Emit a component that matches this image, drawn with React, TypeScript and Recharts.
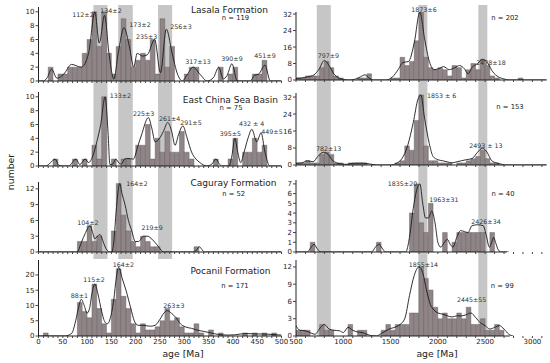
import React from "react";
import { ComposedChart, LineChart, Bar, Line, XAxis, YAxis, ReferenceArea, ReferenceLine } from "recharts";

const FONT = "DejaVu Sans, Verdana, sans-serif";

// histogram counts: left column 10 Ma bins from 0 Ma, right column 50 Ma bins from 500 Ma
const lasalaYoung = [0, 0, 2, 0, 1, 1, 2, 2, 2, 4, 6, 10, 5, 10, 4, 1, 5, 9, 6, 2, 3, 4, 3, 6, 1, 9, 2, 5, 0, 0, 1, 2, 2, 0, 0, 0, 0, 2, 0, 1, 2, 0, 0, 0, 1, 1, 3, 0, 0, 0];
const ecsbYoung = [0, 0, 0, 1, 0, 0, 0, 1, 0, 1, 0, 3, 1, 10, 0, 1, 0, 1, 1, 0, 3, 3, 6, 1, 4, 2, 5, 2, 2, 5, 2, 1, 0, 0, 0, 0, 1, 0, 0, 1, 4, 0, 2, 2, 4, 2, 3, 0, 0, 0];
const cagurayYoung = [0, 0, 0, 0, 0, 0, 0, 0, 2, 2, 5, 2, 3, 0, 0, 4, 13, 7, 4, 2, 1, 3, 2, 1, 1, 0, 0, 0, 0, 0, 0, 0, 1, 0, 0, 0, 0, 0, 0, 0, 0, 0, 0, 0, 0, 0, 0, 0, 0, 0];
const pocanilYoung = [0, 1, 0, 0, 0, 0, 0, 0, 11, 8, 6, 17, 9, 4, 1, 12, 22, 13, 9, 4, 1, 4, 2, 2, 3, 5, 9, 5, 6, 3, 1, 1, 4, 1, 0, 2, 0, 1, 0, 0, 0, 0, 1, 0, 1, 0, 1, 0, 1, 0];

const lasalaOld = [1, 1, 2, 2, 2, 6, 9, 6, 2, 1, 0, 0, 0, 1, 1, 3, 0, 0, 0, 0, 1, 1, 11, 7, 9, 19, 33, 11, 6, 5, 6, 5, 2, 7, 6, 1, 5, 8, 5, 10, 7, 2, 1, 0, 0, 0, 0, 1];
const ecsbOld = [1, 1, 2, 1, 1, 5, 6, 5, 1, 1, 0, 1, 1, 1, 1, 0, 0, 0, 0, 0, 0, 1, 2, 9, 7, 21, 33, 9, 2, 2, 1, 1, 1, 0, 1, 1, 2, 3, 4, 7, 3, 1, 1, 0, 0, 0, 0, 0];
const cagurayOld = [0, 0, 0, 1, 0, 0, 0, 0, 0, 0, 0, 0, 0, 0, 0, 0, 0, 1, 0, 0, 0, 0, 0, 0, 4, 7, 3, 2, 5, 0, 0, 2, 0, 1, 2, 2, 2, 2, 2, 2, 0, 2, 0, 0, 0, 0, 0, 0];
const pocanilOld = [1, 1, 1, 0, 0, 2, 1, 1, 0, 0, 0, 2, 0, 1, 1, 0, 0, 0, 1, 2, 1, 2, 2, 2, 4, 4, 12, 10, 8, 5, 3, 4, 3, 3, 4, 3, 5, 2, 2, 3, 1, 1, 2, 1, 0, 0, 0, 0];

// density curves [age Ma, value]
const lasalaYoungKde = [[0, 0], [10, 0], [18, 0.5], [27, 1.7], [38, 0.4], [52, 1], [68, 2.4], [88, 2], [103, 4], [116, 10], [125, 5.5], [136, 9.5], [145, 4], [155, 0.3], [164, 4], [176, 7.7], [187, 5], [196, 2], [203, 4], [214, 3.6], [224, 3.8], [239, 6], [251, 1.2], [263, 7.5], [275, 4], [286, 1], [296, 0], [305, 0.8], [318, 2], [332, 1], [347, 0], [360, 0.5], [371, 2], [380, 0.3], [388, 0.8], [398, 2.5], [409, 0], [436, 0], [444, 0.8], [453, 1], [466, 2.3], [477, 0], [500, 0]];
const ecsbYoungKde = [[0, 0], [15, 0], [25, 0.5], [34, 1], [42, 0.1], [50, 0], [62, 0], [77, 1], [85, 0.2], [96, 1], [103, 0.5], [112, 1.5], [120, 3.5], [128, 6], [137, 10], [143, 5], [147, 0.2], [153, 0.3], [159, 1], [166, 0.4], [171, 0.3], [177, 1], [184, 1.1], [195, 1], [205, 3], [212, 4.5], [226, 7], [233, 5.5], [240, 3.5], [249, 4], [257, 5], [266, 6.3], [274, 5], [281, 3], [288, 4.5], [297, 5.8], [306, 4], [315, 2], [324, 1], [332, 0.5], [346, 0], [357, 0.3], [365, 1], [372, 0.3], [377, 0], [392, 0], [398, 1.5], [404, 4], [410, 2], [416, 0.5], [423, 2], [431, 4], [439, 5.3], [449, 3.5], [458, 4.8], [466, 2], [476, 0], [500, 0]];
const cagurayYoungKde = [[0, 0], [79, 0], [89, 2], [96, 3.5], [106, 5], [112, 3.5], [116, 2.5], [121, 3], [127, 3.3], [132, 2.2], [137, 1], [146, 0], [151, 0], [155, 2], [160, 8], [167, 13], [172, 11], [178, 9], [185, 6], [192, 4], [199, 2], [206, 2], [211, 2.5], [216, 3], [225, 3], [229, 2.8], [238, 2], [247, 1], [257, 0], [320, 0], [326, 0.5], [331, 1], [336, 0.5], [341, 0], [500, 0]];
const pocanilYoungKde = [[0, 0], [55, 0], [62, 0.3], [69, 1], [75, 4], [82, 9], [88, 12], [94, 10], [100, 7.5], [105, 9], [110, 14], [116, 17], [122, 14], [130, 8], [137, 4.5], [142, 4], [148, 6], [155, 12], [160, 19], [165, 22.5], [172, 19], [180, 15], [190, 9], [197, 5], [205, 3.5], [215, 3.5], [230, 3.2], [240, 3.5], [250, 5.5], [258, 7.5], [265, 8.3], [273, 7.5], [283, 6], [292, 4], [302, 3], [315, 2.5], [325, 2], [340, 1.5], [355, 1], [370, 0.5], [390, 0.3], [405, 0.4], [425, 0.8], [445, 0.7], [470, 0.6], [490, 0.4], [500, 0.3]];

const lasalaOldKde = [[500, 0.8], [560, 1], [620, 1.5], [690, 2.5], [740, 5], [800, 9.5], [850, 7], [900, 3], [950, 1], [1000, 0.3], [1060, 0], [1120, 0.3], [1180, 1.5], [1230, 2.5], [1270, 1], [1320, 0], [1450, 0], [1520, 1.5], [1580, 5], [1630, 8.5], [1690, 9], [1750, 18], [1810, 33], [1860, 20], [1910, 9], [1960, 5], [2010, 5.5], [2060, 6.5], [2120, 5], [2180, 6], [2230, 7], [2280, 5.5], [2320, 3], [2360, 6], [2420, 8], [2470, 10], [2530, 8], [2580, 4], [2640, 1.5], [2700, 0.5], [2750, 0], [3150, 0]];
const ecsbOldKde = [[500, 0.8], [560, 1], [620, 2], [680, 1.5], [730, 4], [790, 6], [840, 5], [880, 2.5], [930, 1], [980, 0.5], [1040, 0.3], [1100, 0.8], [1200, 0.9], [1280, 0.5], [1350, 0], [1500, 0], [1560, 0.8], [1620, 3], [1680, 9], [1740, 20], [1790, 31], [1820, 33], [1860, 22], [1910, 10], [1950, 4], [2000, 2.5], [2050, 2], [2100, 1.5], [2150, 1], [2200, 1.5], [2250, 2], [2300, 2.5], [2360, 3], [2420, 6], [2470, 8], [2520, 6], [2570, 2], [2620, 1], [2680, 0.3], [2730, 0], [3150, 0]];
const cagurayOldKde = [[500, 0], [620, 0], [660, 0.5], [690, 0.8], [720, 0.4], [760, 0], [1300, 0], [1340, 0.5], [1380, 0.8], [1410, 0.4], [1450, 0], [1660, 0], [1700, 1.5], [1740, 4.5], [1780, 6.5], [1810, 7], [1840, 5], [1870, 3.5], [1900, 3.5], [1935, 4.2], [1970, 3], [2000, 1], [2030, 0.5], [2070, 1], [2100, 1.3], [2130, 0.8], [2160, 0.5], [2200, 1.5], [2240, 2.2], [2280, 2.1], [2320, 2], [2360, 2.7], [2420, 2.8], [2480, 2.7], [2510, 1.8], [2545, 0.5], [2570, 1], [2590, 1.5], [2610, 1], [2640, 0.2], [2670, 0], [2750, 0]];
const pocanilOldKde = [[500, 1.8], [540, 1], [600, 0.9], [660, 0.5], [700, 0.3], [760, 1.5], [800, 2], [850, 1.2], [900, 1], [960, 0.9], [1000, 0.6], [1050, 1.5], [1100, 1], [1150, 0.7], [1200, 0.6], [1250, 0.3], [1300, 0.05], [1350, 0], [1400, 0.4], [1450, 0.9], [1500, 1.3], [1560, 1.6], [1600, 2], [1650, 3], [1700, 7], [1750, 10.5], [1800, 12], [1840, 11], [1880, 8], [1920, 5.5], [1960, 4.5], [2000, 4], [2050, 3.8], [2100, 3.5], [2150, 3.3], [2200, 3.5], [2250, 3.5], [2300, 3.7], [2350, 4], [2400, 3.2], [2450, 2.3], [2500, 1.8], [2550, 1.2], [2600, 1.5], [2650, 1.8], [2700, 1.2], [2750, 0.3], [2800, 0]];

// grey age bands [from, to] in Ma
const youngBands = [[113, 142], [164, 194], [246, 275]];
const oldBands = [[720, 868], [1794, 1889], [2428, 2523]];

const youngAxisLabels = [0, 50, 100, 150, 200, 250, 300, 350, 400, 450, 500];
const oldAxisLabels = [500, 1000, 1500, 2000, 2500, 3000];

// peak labels [text, x, baseline y] in page pixels
const peakLabels = [
  ["112±2", 83, 17.3], ["134±2", 111, 13.3], ["173±2", 140, 27.3], ["235±3", 146.7, 39.3], ["256±3", 181, 29.3], ["317±13", 198, 64.3], ["390±9", 232, 61.3], ["451±9", 265, 58.3],
  ["797±9", 328.3, 58.3], ["1873±6", 424, 11.8], ["2478±18", 491, 64.8],
  ["133±2", 120.3, 98], ["225±3", 143.7, 115.6], ["261±4", 169.7, 120.6], ["291±5", 191, 125], ["395±5", 230.3, 135.6], ["432 ± 4", 251.7, 126.3], ["449±5", 272, 134],
  ["782±13", 328.7, 150.6], ["1853 ± 6", 441.7, 98.3], ["2493 ± 13", 485.8, 148.3],
  ["104±2", 87.8, 224.6], ["164±2", 137, 186.3], ["219±9", 152.2, 230],
  ["1835±20", 402.5, 185.6], ["1963±31", 443.8, 201.6], ["2426±34", 486, 224],
  ["88±1", 79.3, 298.3], ["115±2", 94, 281.6], ["164±2", 123.3, 267.3], ["263±3", 173.8, 308],
  ["1855±14", 423.3, 266.6], ["2445±55", 471.7, 301.6],
];

const titles = [
  ["Lasala Formation", 229.5, 12.7, 9], ["n = 119", 235.5, 20, 6.8], ["n = 202", 505, 20, 6.8],
  ["East China Sea Basin", 230.4, 103.3, 9], ["n = 75", 231, 110, 6.8], ["n = 153", 510, 109, 6.8],
  ["Caguray Formation", 233.5, 186, 9], ["n = 52", 233.7, 196, 6.8], ["n = 40", 503, 196, 6.8],
  ["Pocanil Formation", 230.5, 274.3, 9], ["n = 171", 235, 287.5, 6.8], ["n = 99", 502.3, 287.5, 6.8],
];

const COLS = {
  L: { chartLeft: 0, chartWidth: 290, x0: 38.5, x1: 281.5, domain: [0, 500], binStart: 0, binW: 10, tickStep: 10, tickEnd: 500, bandTop: 5, bandBottom: 259 },
  R: { chartLeft: 262, chartWidth: 288, x0: 296, x1: 546.6, domain: [500, 3150], binStart: 500, binW: 50, tickStep: 100, tickEnd: 3100, bandTop: 5, bandBottom: 336 },
};

const PANELS = [
  { col: "L", top: 7, bottom: 81, yMax: 10.7, yTicks: [0, 2, 4, 6, 8, 10], counts: lasalaYoung, kde: lasalaYoungKde },
  { col: "R", top: 12, bottom: 80, yMax: 33, yTicks: [0, 8, 16, 24, 32], counts: lasalaOld, kde: lasalaOldKde },
  { col: "L", top: 92, bottom: 166, yMax: 10.7, yTicks: [0, 2, 4, 6, 8, 10], counts: ecsbYoung, kde: ecsbYoungKde },
  { col: "R", top: 93, bottom: 165, yMax: 33.9, yTicks: [0, 8, 16, 24, 32], counts: ecsbOld, kde: ecsbOldKde },
  { col: "L", top: 182, bottom: 252, yMax: 13.3, yTicks: [0, 3, 6, 9, 12], counts: cagurayYoung, kde: cagurayYoungKde },
  { col: "R", top: 180, bottom: 252, yMax: 7.4, yTicks: [0, 1, 2, 3, 4, 5, 6, 7], counts: cagurayOld, kde: cagurayOldKde, axisEnd: 2730 },
  { col: "L", top: 260, bottom: 336, yMax: 24.9, yTicks: [0, 5, 10, 15, 20], counts: pocanilYoung, kde: pocanilYoungKde, labels: true },
  { col: "R", top: 260, bottom: 336, yMax: 13.2, yTicks: [0, 3, 6, 9, 12], counts: pocanilOld, kde: pocanilOldKde, labels: true, axisEnd: 2760 },
];

const BAR_FILL = "#8f8587";
const BAR_EDGE = "#5e5658";
const AXIS = "#222";
const BAND = "#c6c6c6";
const tickStyle = { fontSize: 7, fontFamily: FONT, fill: "#222" };

function Panel({ p }) {
  const c = COLS[p.col];
  const pad = 4;
  const xAxisH = p.labels ? 16 : 4;
  const height = pad + (p.bottom - p.top) + xAxisH;
  const pxPerMa = (c.x1 - c.x0) / (c.domain[1] - c.domain[0]);
  const rows = p.counts.map((n, i) => ({ age: c.binStart + c.binW * (i + 0.5), n }));
  const curve = p.kde.map(([age, v]) => ({ age, v }));
  const ticks = [];
  for (let t = c.domain[0]; t <= c.tickEnd; t += c.tickStep) ticks.push(t);
  const axisLabels = p.col === "L" ? youngAxisLabels : oldAxisLabels;
  const fmt = (v) => (p.labels && axisLabels.includes(v) ? String(v) : "");
  const rightM = c.chartLeft + c.chartWidth - c.x1;
  const box = { position: "absolute", left: c.chartLeft, top: p.top - pad, width: c.chartWidth, height };
  return (
    <>
      <div style={box}>
        <ComposedChart width={c.chartWidth} height={height} data={rows}
          margin={{ top: pad, right: rightM, bottom: 0, left: c.x0 - c.chartLeft - 30 }}>
          <XAxis dataKey="age" type="number" domain={c.domain} allowDataOverflow ticks={ticks} interval={0}
            tickFormatter={fmt} height={xAxisH} tickSize={2} tickMargin={1} tick={tickStyle}
            axisLine={p.axisEnd ? false : { stroke: AXIS }} tickLine={{ stroke: "#444" }} />
          <YAxis type="number" domain={[0, p.yMax]} allowDataOverflow ticks={p.yTicks} interval={0} width={30}
            tickSize={3} tickMargin={1} tick={tickStyle} axisLine={{ stroke: AXIS }} tickLine={{ stroke: "#444" }} />
          <Bar dataKey="n" fill={BAR_FILL} stroke={BAR_EDGE} strokeWidth={0.4}
            barSize={c.binW * pxPerMa - 0.05} isAnimationActive={false} />
          {p.axisEnd ? (
            <ReferenceLine segment={[{ x: c.domain[0], y: 0 }, { x: p.axisEnd, y: 0 }]} stroke={AXIS} ifOverflow="visible" />
          ) : null}
        </ComposedChart>
      </div>
      <div style={box}>
        <LineChart width={c.chartWidth} height={height} data={curve}
          margin={{ top: pad, right: rightM, bottom: xAxisH, left: c.x0 - c.chartLeft }}>
          <XAxis dataKey="age" type="number" domain={c.domain} allowDataOverflow hide />
          <YAxis type="number" domain={[0, p.yMax]} allowDataOverflow hide />
          <Line dataKey="v" type="monotone" stroke="#1a1a1a" strokeWidth={0.9} dot={false} isAnimationActive={false} />
        </LineChart>
      </div>
    </>
  );
}

function Bands({ col, bands }) {
  const c = COLS[col];
  const h = c.bandBottom - c.bandTop;
  const dummy = [{ age: c.domain[0], v: 0 }, { age: c.domain[1], v: 1 }];
  return (
    <div style={{ position: "absolute", left: c.chartLeft, top: c.bandTop, width: c.chartWidth, height: h }}>
      <ComposedChart width={c.chartWidth} height={h} data={dummy}
        margin={{ top: 0, right: c.chartLeft + c.chartWidth - c.x1, bottom: 0, left: c.x0 - c.chartLeft }}>
        <XAxis dataKey="age" type="number" domain={c.domain} allowDataOverflow hide />
        <YAxis type="number" domain={[0, 1]} allowDataOverflow hide />
        {bands.map(([a, b], i) => (
          <ReferenceArea key={i} x1={a} x2={b} y1={0} y2={1} fill={BAND} fillOpacity={1} stroke="none" ifOverflow="visible" />
        ))}
        <Line dataKey="v" stroke="none" dot={false} isAnimationActive={false} />
      </ComposedChart>
    </div>
  );
}

export default function App() {
  return (
    <div style={{ position: "absolute", left: 0, top: 0, width: 550, height: 363, background: "#fff", overflow: "hidden" }}>
      <Bands col="L" bands={youngBands} />
      <Bands col="R" bands={oldBands} />
      {PANELS.map((p, i) => <Panel key={i} p={p} />)}
      <svg width={550} height={363} style={{ position: "absolute", left: 0, top: 0, pointerEvents: "none" }}>
        {peakLabels.map(([t, x, y], i) => (
          <text key={"p" + i} x={x} y={y} textAnchor="middle" fontSize={6.3} fontFamily={FONT} fill="#333">{t}</text>
        ))}
        {titles.map(([t, x, y, s], i) => (
          <text key={"t" + i} x={x} y={y} textAnchor="middle" fontSize={s} fontFamily={FONT} fill="#222">{t}</text>
        ))}
        <text x={183} y={357} textAnchor="middle" fontSize={9.3} fontFamily={FONT} fill="#222">age [Ma]</text>
        <text x={437} y={357} textAnchor="middle" fontSize={9.3} fontFamily={FONT} fill="#222">age [Ma]</text>
        <text x={14} y={172} transform="rotate(-90 14 172)" textAnchor="middle" fontSize={9.3} fontFamily={FONT} fill="#222">number</text>
      </svg>
    </div>
  );
}
